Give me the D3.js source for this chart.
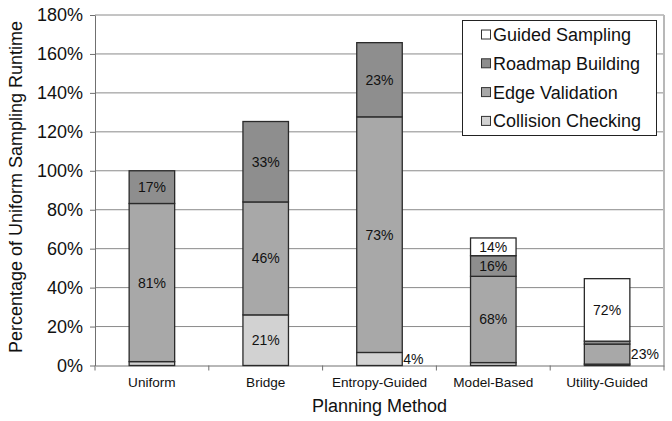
<!DOCTYPE html>
<html><head><meta charset="utf-8">
<script src="https://cdn.jsdelivr.net/npm/d3@7"></script>
<style>
html,body{margin:0;padding:0;background:#fff;}
text{font-family:"Liberation Sans",Arial,Helvetica,sans-serif;}
</style></head>
<body>
<svg id="chart" width="672" height="421"></svg>
<script>
// ---- data ----
const categories = ["Uniform", "Bridge", "Entropy-Guided", "Model-Based", "Utility-Guided"];
const seriesNames = ["Collision Checking", "Edge Validation", "Roadmap Building", "Guided Sampling"];
// absolute values, % of uniform sampling runtime
const collisionChecking = [2.0, 26.0, 6.7, 1.5, 0.7];
const edgeValidation    = [81.2, 58.0, 121.0, 44.3, 10.3];
const roadmapBuilding   = [16.8, 41.3, 38.1, 10.6, 1.5];
const guidedSampling    = [0, 0, 0, 9.1, 32.1];
// segment labels (share of bar)
const collisionLabels = ["", "21%", "4%", "", ""];
const edgeLabels      = ["81%", "46%", "73%", "68%", "23%"];
const roadmapLabels   = ["17%", "33%", "23%", "16%", ""];
const guidedLabels    = ["", "", "", "14%", "72%"];
// labels drawn beside the bar instead of inside
const outsideLabels = [["Entropy-Guided","Collision Checking"],["Utility-Guided","Edge Validation"]];
const yTicks = [0, 20, 40, 60, 80, 100, 120, 140, 160, 180];
const colors = ["#d2d2d2", "#a8a8a8", "#8e8e8e", "#ffffff"];

const seriesValues = [collisionChecking, edgeValidation, roadmapBuilding, guidedSampling];
const seriesLabels = [collisionLabels, edgeLabels, roadmapLabels, guidedLabels];

const rows = categories.map((c, i) => {
  const r = {cat: c};
  seriesNames.forEach((s, j) => r[s] = seriesValues[j][i]);
  return r;
});
const stacked = d3.stack().keys(seriesNames)(rows);

const svg = d3.select("#chart");
const m = {left: 95, right: 664, top: 15, bottom: 365.5};

const x = d3.scaleBand().domain(categories).range([m.left, m.right]).paddingInner(0.6).paddingOuter(0.3);
const y = d3.scaleLinear().domain([0, 180]).range([m.bottom, m.top]);

// gridlines
svg.append("g").selectAll("line").data(yTicks.filter(t => t > 0)).join("line")
  .attr("x1", m.left).attr("x2", m.right)
  .attr("y1", d => y(d)).attr("y2", d => y(d))
  .attr("stroke", "#8a8a8a").attr("stroke-width", 1);
// right border
svg.append("line").attr("x1", m.right).attr("x2", m.right).attr("y1", m.top).attr("y2", m.bottom)
  .attr("stroke", "#b8b8b8").attr("stroke-width", 2);

// y axis
const yAxis = svg.append("g").attr("transform", `translate(${m.left},0)`)
  .call(d3.axisLeft(y).tickValues(yTicks).tickSize(5).tickSizeOuter(0).tickPadding(7).tickFormat(d => d + "%"));
yAxis.select(".domain").attr("stroke", "#707070");
yAxis.selectAll(".tick line").attr("stroke", "#707070");
yAxis.selectAll(".tick text").attr("font-size", 18).attr("fill", "#111");

// x axis
const xAxis = svg.append("g").attr("transform", `translate(0,${m.bottom})`)
  .call(d3.axisBottom(x).tickSize(0).tickSizeOuter(0).tickPadding(12));
xAxis.select(".domain").attr("stroke", "#707070");
xAxis.selectAll(".tick text").attr("font-size", 13.6).attr("fill", "#111");
// category separator ticks
const step = x.step();
svg.append("g").selectAll("line").data(d3.range(categories.length + 1)).join("line")
  .attr("x1", i => m.left + i * step).attr("x2", i => m.left + i * step)
  .attr("y1", m.bottom).attr("y2", m.bottom + 5)
  .attr("stroke", "#707070");

// bars
const layers = svg.append("g").selectAll("g").data(stacked).join("g")
  .attr("fill", (d, i) => colors[i]);
layers.selectAll("rect").data(d => d.filter(p => p[1] - p[0] > 0)).join("rect")
  .attr("x", d => x(d.data.cat))
  .attr("width", x.bandwidth())
  .attr("y", d => y(d[1]))
  .attr("height", d => y(d[0]) - y(d[1]))
  .attr("stroke", "#2a2a2a").attr("stroke-width", 1.3);

// segment labels
const lbl = svg.append("g");
stacked.forEach((layer, j) => {
  layer.forEach((p, i) => {
    const t = seriesLabels[j][i];
    if (!t) return;
    const out = outsideLabels.some(o => o[0] === categories[i] && o[1] === seriesNames[j]);
    const cy = (y(p[0]) + y(p[1])) / 2;
    lbl.append("text")
      .attr("x", out ? x(categories[i]) + x.bandwidth() + 1 : x(categories[i]) + x.bandwidth() / 2)
      .attr("y", cy)
      .attr("dy", "0.36em")
      .attr("text-anchor", out ? "start" : "middle")
      .attr("font-size", 14)
      .attr("fill", "#111")
      .text(t);
  });
});

// axis titles
svg.append("text").attr("x", (m.left + m.right) / 2).attr("y", 412)
  .attr("text-anchor", "middle").attr("font-size", 18).attr("fill", "#111").text("Planning Method");
svg.append("text").attr("transform", "translate(22,187) rotate(-90)")
  .attr("text-anchor", "middle").attr("font-size", 18).attr("fill", "#111")
  .text("Percentage of Uniform Sampling Runtime");

// legend
const lg = svg.append("g");
lg.append("rect").attr("x", 462.5).attr("y", 20.5).attr("width", 194).attr("height", 115)
  .attr("fill", "#fff").attr("stroke", "#222").attr("stroke-width", 1);
const legendOrder = [3, 2, 1, 0];
legendOrder.forEach((j, k) => {
  const cy = 34.5 + k * 28.8;
  lg.append("rect").attr("x", 481.5).attr("y", cy - 4.5).attr("width", 9).attr("height", 9)
    .attr("fill", colors[j]).attr("stroke", "#333").attr("stroke-width", 1);
  lg.append("text").attr("x", 493).attr("y", cy).attr("dy", "0.36em")
    .attr("font-size", 18).attr("fill", "#111").text(seriesNames[j]);
});
</script>
</body></html>
